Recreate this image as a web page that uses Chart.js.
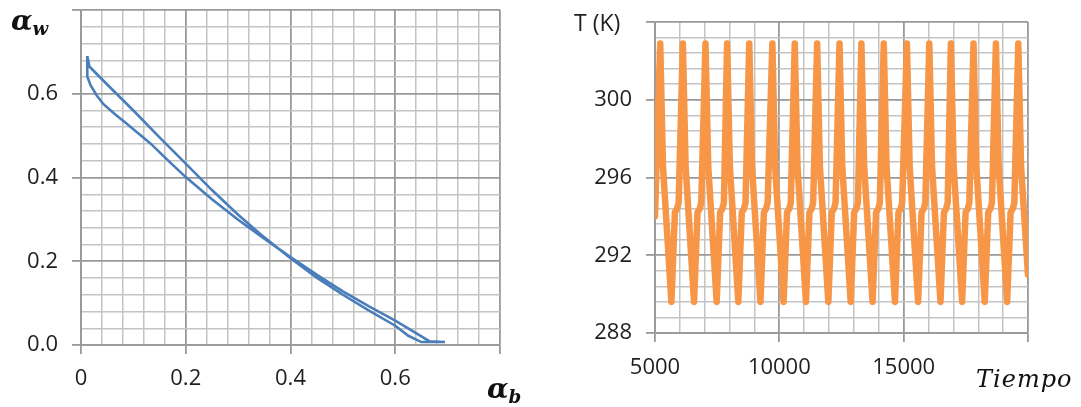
<!DOCTYPE html>
<html>
<head>
<meta charset="utf-8">
<script src="https://cdn.jsdelivr.net/npm/chart.js@4.4.1/dist/chart.umd.min.js"></script>
<style>
  body { margin: 0; background: #fff; width: 1081px; height: 407px; overflow: hidden; position: relative; }
  .panel { position: absolute; top: 0; height: 407px; }
  .mathlbl { position: absolute; font-family: "DejaVu Serif", serif; font-style: italic; color: #111; white-space: nowrap; }
  .mathlbl sub { font-size: 65%; vertical-align: -0.3em; }
  #tk { position: absolute; left: 574px; top: 6px; font: 23px "Open Sans", sans-serif; color: #1f1f1f; }
</style>
</head>
<body>
<div class="panel" style="left:0;width:540px"><canvas id="loopChart" width="540" height="407"></canvas></div>
<div class="panel" style="left:540px;width:541px"><canvas id="tempChart" width="541" height="407"></canvas></div>
<div class="mathlbl" style="left:11px;top:4px;font-size:28px;font-weight:bold">α<sub>w</sub></div>
<div class="mathlbl" style="left:487px;top:372px;font-size:28px;font-weight:bold">α<sub>b</sub></div>
<div id="tk">T (K)</div>
<div class="mathlbl" style="left:976px;top:365px;font-size:24px;letter-spacing:1px">Tiempo</div>
<script>
// ciclo alpha_b / alpha_w
const alphaB = [0.012, 0.012, 0.018, 0.030, 0.043, 0.065, 0.088, 0.132, 0.170, 0.200, 0.250, 0.300, 0.350, 0.400,
    0.450, 0.500, 0.550, 0.600, 0.635, 0.665, 0.695, 0.650, 0.625, 0.600, 0.550, 0.500, 0.450, 0.400,
    0.350, 0.300, 0.250, 0.200, 0.150, 0.100, 0.050, 0.016, 0.012];
const alphaW = [0.690, 0.641, 0.621, 0.596, 0.575, 0.551, 0.528, 0.482, 0.436, 0.401, 0.348, 0.299, 0.254, 0.210,
    0.168, 0.128, 0.092, 0.058, 0.032, 0.009, 0.007, 0.007, 0.022, 0.046, 0.082, 0.120, 0.161, 0.207,
    0.257, 0.311, 0.370, 0.433, 0.496, 0.560, 0.622, 0.665, 0.690];

// temperatura frente al tiempo
const tiempo = [5000,
    5210, 5320, 5660, 5800, 5890, 5950,
    6120, 6230, 6570, 6710, 6800, 6860,
    7030, 7140, 7480, 7620, 7710, 7770,
    7900, 8010, 8350, 8490, 8580, 8640,
    8790, 8900, 9240, 9380, 9470, 9530,
    9720, 9830, 10170, 10310, 10400, 10460,
    10620, 10730, 11070, 11210, 11300, 11360,
    11520, 11630, 11970, 12110, 12200, 12260,
    12420, 12530, 12870, 13010, 13100, 13160,
    13300, 13410, 13750, 13890, 13980, 14040,
    14200, 14310, 14650, 14790, 14880, 14940,
    15130, 15240, 15580, 15720, 15810, 15870,
    16030, 16140, 16480, 16620, 16710, 16770,
    16900, 17010, 17350, 17490, 17580, 17640,
    17810, 17920, 18260, 18400, 18490, 18550,
    18710, 18820, 19160, 19300, 19390, 19450,
    19610, 19720, 20000];
const temperatura = [294.0,
    302.9, 296.6, 289.6, 294.2, 294.4, 294.7,
    302.9, 296.6, 289.6, 294.2, 294.4, 294.7,
    302.9, 296.6, 289.6, 294.2, 294.4, 294.7,
    302.9, 296.6, 289.6, 294.2, 294.4, 294.7,
    302.9, 296.6, 289.6, 294.2, 294.4, 294.7,
    302.9, 296.6, 289.6, 294.2, 294.4, 294.7,
    302.9, 296.6, 289.6, 294.2, 294.4, 294.7,
    302.9, 296.6, 289.6, 294.2, 294.4, 294.7,
    302.9, 296.6, 289.6, 294.2, 294.4, 294.7,
    302.9, 296.6, 289.6, 294.2, 294.4, 294.7,
    302.9, 296.6, 289.6, 294.2, 294.4, 294.7,
    302.9, 296.6, 289.6, 294.2, 294.4, 294.7,
    302.9, 296.6, 289.6, 294.2, 294.4, 294.7,
    302.9, 296.6, 289.6, 294.2, 294.4, 294.7,
    302.9, 296.6, 289.6, 294.2, 294.4, 294.7,
    302.9, 296.6, 289.6, 294.2, 294.4, 294.7,
    302.9, 296.6, 291.0];

const loopXLabels = ['0', '0.2', '0.4', '0.6'];
const loopYLabels = ['0.0', '0.2', '0.4', '0.6'];
const tempXLabels = ['5000', '10000', '15000'];
const tempYLabels = ['288', '292', '296', '300'];

const minorColor = '#c4c4c4';
const majorColor = '#999999';
const tickFont = { family: 'Open Sans', size: 22 };

function isMajor(value, major) {
    const k = Math.round(value / major);
    return Math.abs(value - k * major) < major * 1e-6;
}

function gridFor(major) {
    return {
        color: ctx => isMajor(ctx.tick.value, major) ? majorColor : minorColor,
        lineWidth: ctx => isMajor(ctx.tick.value, major) ? 1.8 : 1.5,
        tickColor: ctx => isMajor(ctx.tick.value, major) ? majorColor : 'rgba(0,0,0,0)',
        tickLength: 9,
        tickWidth: 1.8
    };
}

function labelFor(value, major, labels, first) {
    if (!isMajor(value, major)) return '';
    const i = Math.round((value - first) / major);
    return labels[i] !== undefined ? labels[i] : '';
}

// the layout padding alone decides where the plot area sits
function fixX(s) { s.height = 50; s.paddingLeft = 0; s.paddingRight = 0; }
function fixY(w) { return s => { s.width = w; s.paddingTop = 0; s.paddingBottom = 0; }; }

new Chart(document.getElementById('loopChart'), {
    type: 'scatter',
    data: {
        datasets: [{
            data: alphaB.map((b, i) => ({ x: b, y: alphaW[i] })),
            showLine: true,
            borderColor: '#4a7ebb',
            borderWidth: 2.6,
            pointRadius: 0,
            fill: false,
            tension: 0
        }]
    },
    options: {
        responsive: false,
        animation: false,
        layout: { padding: { left: 0, right: 40, top: 10, bottom: 12 } },
        plugins: { legend: { display: false }, tooltip: { enabled: false } },
        scales: {
            x: {
                type: 'linear', min: 0, max: 0.8,
                afterFit: fixX,
                border: { color: majorColor, width: 1.8 },
                grid: gridFor(0.2),
                ticks: {
                    stepSize: 0.04, autoSkip: false, maxRotation: 0, padding: 12,
                    color: '#1f1f1f', font: tickFont,
                    callback: v => labelFor(v, 0.2, loopXLabels, 0)
                }
            },
            y: {
                type: 'linear', min: 0, max: 0.8,
                afterFit: fixY(81),
                border: { color: majorColor, width: 1.8 },
                grid: gridFor(0.2),
                ticks: {
                    stepSize: 0.04, autoSkip: false, padding: 14,
                    color: '#1f1f1f', font: tickFont,
                    callback: v => labelFor(v, 0.2, loopYLabels, 0)
                }
            }
        }
    }
});

new Chart(document.getElementById('tempChart'), {
    type: 'line',
    data: {
        datasets: [{
            data: tiempo.map((t, i) => ({ x: t, y: temperatura[i] })),
            borderColor: '#f79646',
            borderWidth: 6.5,
            borderJoinStyle: 'round',
            borderCapStyle: 'round',
            pointRadius: 0,
            fill: false,
            tension: 0
        }]
    },
    options: {
        responsive: false,
        animation: false,
        layout: { padding: { left: 0, right: 53, top: 22, bottom: 24 } },
        plugins: { legend: { display: false }, tooltip: { enabled: false } },
        scales: {
            x: {
                type: 'linear', min: 5000, max: 20000,
                afterFit: fixX,
                border: { color: majorColor, width: 1.8 },
                grid: gridFor(5000),
                ticks: {
                    stepSize: 1000, autoSkip: false, maxRotation: 0, padding: 13,
                    color: '#1f1f1f', font: tickFont,
                    callback: v => labelFor(v, 5000, tempXLabels, 5000)
                }
            },
            y: {
                type: 'linear', min: 288, max: 304,
                afterFit: fixY(115),
                border: { color: majorColor, width: 1.8 },
                grid: gridFor(4),
                ticks: {
                    stepSize: 0.8, autoSkip: false, padding: 14,
                    color: '#1f1f1f', font: tickFont,
                    callback: v => labelFor(v, 4, tempYLabels, 288)
                }
            }
        }
    }
});
</script>
</body>
</html>
